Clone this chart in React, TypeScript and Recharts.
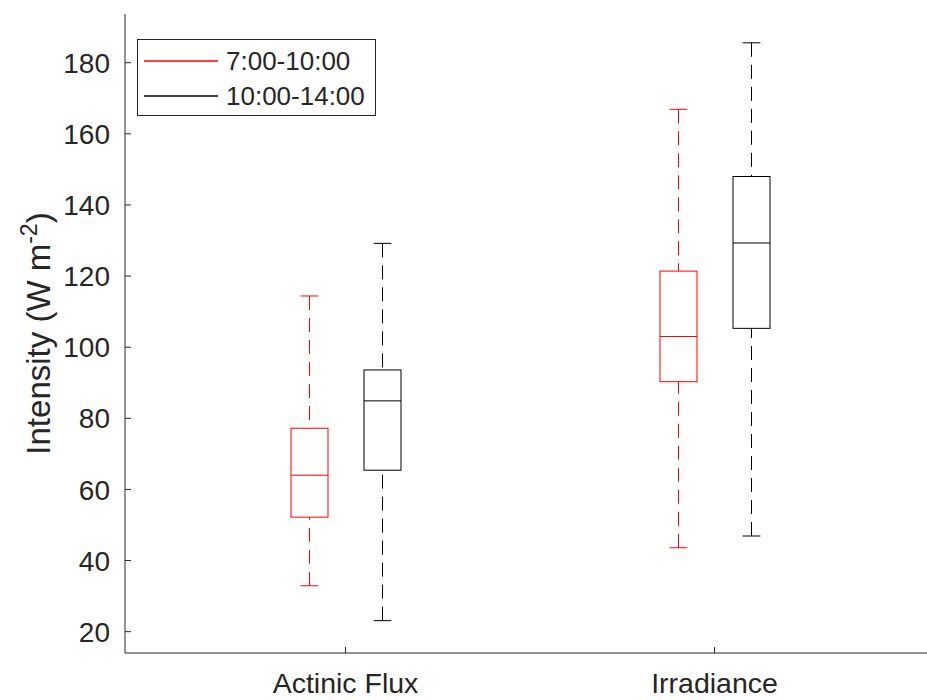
import { BarChart, Bar, XAxis, YAxis, Legend } from 'recharts';

const categories = ['Actinic Flux', 'Irradiance'];
const yTicks = [20, 40, 60, 80, 100, 120, 140, 160, 180];

// 7:00-10:00
const morningLow = [32.9, 43.6];
const morningQ1 = [52.2, 90.3];
const morningMedian = [64.0, 103.0];
const morningQ3 = [77.2, 121.4];
const morningHigh = [114.4, 166.9];

// 10:00-14:00
const noonLow = [23.1, 46.9];
const noonQ1 = [65.4, 105.3];
const noonMedian = [84.9, 129.3];
const noonQ3 = [93.6, 148.0];
const noonHigh = [129.2, 185.6];

const seriesInfo = [
  { key: 'morning', label: '7:00-10:00', color: '#ff0000' },
  { key: 'noon', label: '10:00-14:00', color: '#000000' },
];

const data = categories.map((category, i) => ({
  category,
  morning: [morningLow[i], morningHigh[i]],
  morningStats: {
    low: morningLow[i],
    q1: morningQ1[i],
    median: morningMedian[i],
    q3: morningQ3[i],
    high: morningHigh[i],
  },
  noon: [noonLow[i], noonHigh[i]],
  noonStats: {
    low: noonLow[i],
    q1: noonQ1[i],
    median: noonMedian[i],
    q3: noonQ3[i],
    high: noonHigh[i],
  },
}));

const AXIS = '#262626';
const FONT = '"Liberation Sans", Arial, Helvetica, sans-serif';

const makeBoxShape = (statsKey: string, color: string) => (props: any) => {
  const { x, y, width, height, payload } = props;
  const s = payload[statsKey];
  const top = Math.min(y, y + height);
  const bottom = Math.max(y, y + height);
  // linear map inside the bar's own pixel range (low..high)
  const toPx = (v: number) => top + ((s.high - v) / (s.high - s.low)) * (bottom - top);
  const cx = x + width / 2;
  const cap = width * 0.24;
  return (
    <g fill="none" stroke={color} strokeWidth={1}>
      <line x1={cx} x2={cx} y1={toPx(s.high)} y2={toPx(s.q3)} strokeDasharray="14 8" />
      <line x1={cx} x2={cx} y1={toPx(s.low)} y2={toPx(s.q1)} strokeDasharray="14 8" />
      <line x1={cx - cap} x2={cx + cap} y1={toPx(s.high)} y2={toPx(s.high)} />
      <line x1={cx - cap} x2={cx + cap} y1={toPx(s.low)} y2={toPx(s.low)} />
      <rect x={x} y={toPx(s.q3)} width={width} height={toPx(s.q1) - toPx(s.q3)} />
      <line x1={x} x2={x + width} y1={toPx(s.median)} y2={toPx(s.median)} />
    </g>
  );
};

const BottomTick = (props: any) => {
  const { x, y, payload } = props;
  return (
    <g>
      <line x1={x} x2={x} y1={y} y2={y - 6} stroke={AXIS} />
      <text x={x} y={y + 40} textAnchor="middle" fill={AXIS} fontSize={28.5} fontFamily={FONT}>
        {payload.value}
      </text>
    </g>
  );
};

const TopTick = (props: any) => {
  const { x, y } = props;
  return <line x1={x} x2={x} y1={y} y2={y + 6} stroke={AXIS} />;
};

const LeftTick = (props: any) => {
  const { x, y, payload } = props;
  return (
    <g>
      <line x1={x} x2={x + 6} y1={y} y2={y} stroke={AXIS} />
      <text x={x - 15} y={y} dy="0.36em" textAnchor="end" fill={AXIS} fontSize={28} fontFamily={FONT}>
        {payload.value}
      </text>
    </g>
  );
};

const renderYLabel = (p: any) => {
  const vb = p.viewBox || { x: 0, y: 14, width: 125, height: 639 };
  const cy = vb.y + vb.height / 2;
  return (
    <g transform={`translate(${vb.x + 50}, ${cy}) rotate(-90)`}>
      <text x={0} y={0} textAnchor="middle" fill={AXIS} fontSize={33} fontFamily={FONT}>
        Intensity (W m
        <tspan dy={-13} fontSize={23}>
          -2
        </tspan>
        <tspan dy={13}>)</tspan>
      </text>
    </g>
  );
};

const renderLegend = () => (
  <div
    style={{
      position: 'relative',
      width: 237,
      height: 75,
      border: `1px solid ${AXIS}`,
      background: '#fff',
      fontFamily: FONT,
      fontSize: 26,
      color: AXIS,
    }}
  >
    {seriesInfo.map((s, i) => (
      <div key={s.key}>
        <svg
          width={80}
          height={4}
          style={{ position: 'absolute', left: 6, top: 19 + i * 35 }}
        >
          <line x1={0} x2={74} y1={2} y2={2} stroke={s.color} strokeWidth={1.6} />
        </svg>
        <span
          style={{
            position: 'absolute',
            left: 88,
            top: 21 + i * 35,
            transform: 'translateY(-50%)',
            lineHeight: 1,
            whiteSpace: 'nowrap',
          }}
        >
          {s.label}
        </span>
      </div>
    ))}
  </div>
);

export default function App() {
  return (
    <div
      style={{
        position: 'absolute',
        left: 0,
        top: 0,
        width: 927,
        height: 700,
        overflow: 'hidden',
        background: '#fff',
      }}
    >
      <BarChart
        width={940}
        height={700}
        data={data}
        margin={{ top: 14, right: 5, left: 0, bottom: 0 }}
        barSize={37}
        barGap={36}
      >
        <XAxis
          dataKey="category"
          height={47}
          padding={{ left: 36, right: 36 }}
          stroke={AXIS}
          tickLine={false}
          tickSize={0}
          tickMargin={0}
          tick={<BottomTick />}
          interval={0}
        />
        <XAxis
          xAxisId="top"
          orientation="top"
          dataKey="category"
          height={0}
          padding={{ left: 36, right: 36 }}
          stroke={AXIS}
          tickLine={false}
          tickSize={0}
          tickMargin={0}
          tick={<TopTick />}
          interval={0}
        />
        <YAxis
          width={125}
          domain={[14, 193.7]}
          ticks={yTicks}
          allowDataOverflow
          stroke={AXIS}
          tickLine={false}
          tickSize={0}
          tickMargin={0}
          tick={<LeftTick />}
          label={{ position: 'center', content: renderYLabel }}
        />
        <Legend
          layout="vertical"
          align="center"
          verticalAlign="middle"
          wrapperStyle={{ left: 137, top: 39, width: 'auto', height: 'auto' }}
          content={renderLegend}
        />
        {seriesInfo.map((s) => (
          <Bar
            key={s.key}
            dataKey={s.key}
            name={s.label}
            fill={s.color}
            shape={makeBoxShape(`${s.key}Stats`, s.color)}
            isAnimationActive={false}
          />
        ))}
      </BarChart>
    </div>
  );
}
